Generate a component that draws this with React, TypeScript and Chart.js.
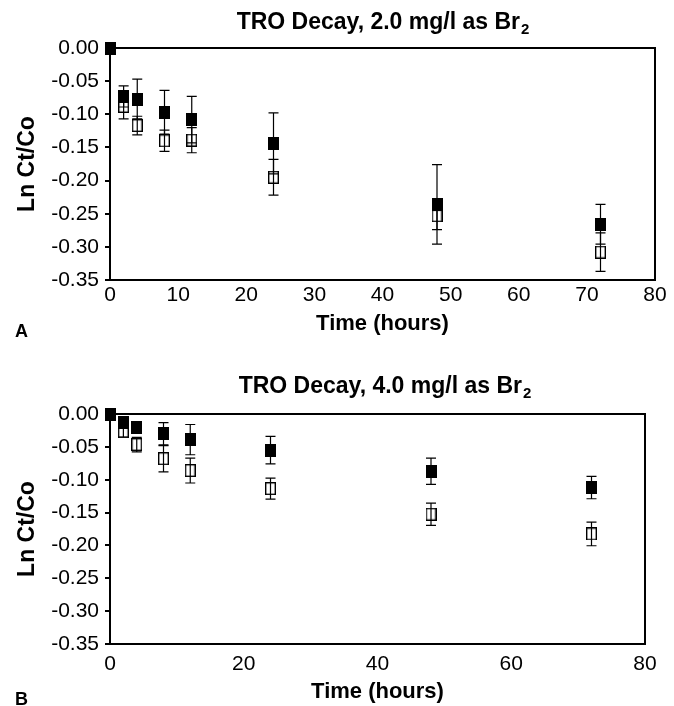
import React, { useEffect, useRef } from 'react';
import { Chart, registerables } from 'chart.js';

Chart.register(...registerables);

// ---------- data ----------
const hours = [0, 2, 4, 8, 12, 24, 48, 72];

const yTicks = [0, -0.05, -0.1, -0.15, -0.2, -0.25, -0.3, -0.35];
const xTicksA = [0, 10, 20, 30, 40, 50, 60, 70, 80];
const xTicksB = [0, 20, 40, 60, 80];

const titleA = 'TRO Decay, 2.0 mg/l as Br';
const titleB = 'TRO Decay, 4.0 mg/l as Br';
const titleSub = '2';
const xTitle = 'Time (hours)';
const yTitle = 'Ln Ct/Co';
const panelA = 'A';
const panelB = 'B';

// Panel A (2.0 mg/l)
const aFilled = [0, -0.073, -0.077, -0.097, -0.108, -0.144, -0.236, -0.266];
const aFilledErr = [0, 0.016, 0.03, 0.033, 0.035, 0.046, 0.06, 0.03];
const aOpen = [0, -0.088, -0.117, -0.14, -0.139, -0.195, -0.253, -0.308];
const aOpenErr = [0, 0.019, 0.014, 0.016, 0.019, 0.027, 0.021, 0.029];

// Panel B (4.0 mg/l)
const bFilled = [0, -0.0125, -0.02, -0.03, -0.039, -0.055, -0.087, -0.112];
const bFilledErr = [0, 0.006, 0.008, 0.017, 0.023, 0.021, 0.02, 0.017];
const bOpen = [0, -0.027, -0.0465, -0.068, -0.086, -0.1135, -0.1525, -0.1825];
const bOpenErr = [0, 0.008, 0.011, 0.02, 0.019, 0.016, 0.017, 0.018];

// ---------- styling ----------
const FONT = '"Liberation Sans", Arial, Helvetica, sans-serif';

function markerCanvas(filled: boolean) {
  const c = document.createElement('canvas');
  c.width = 11;
  c.height = 13;
  const g = c.getContext('2d')!;
  if (filled) {
    g.fillStyle = '#000';
    g.fillRect(0, 0, 11, 13);
  } else {
    g.fillStyle = '#fff';
    g.fillRect(0, 0, 11, 13);
    g.strokeStyle = '#000';
    g.lineWidth = 1.4;
    g.strokeRect(0.7, 0.7, 9.6, 11.6);
  }
  return c;
}

interface Geo {
  top: number;
  right: number;
  xHeight: number;
  xTickPad: number;
  xTitlePad: number;
  titleX: number;
  titleBase: number;
  panelBase: number;
}

interface Spec {
  title: string;
  panel: string;
  filled: number[];
  filledErr: number[];
  open: number[];
  openErr: number[];
  xTicks: number[];
  geo: Geo;
}

const errorBarPlugin = {
  id: 'errorBars',
  afterDatasetsDraw(chart: any) {
    const ctx = chart.ctx;
    const xs = chart.scales.x;
    const ys = chart.scales.y;
    ctx.save();
    ctx.strokeStyle = '#000';
    ctx.lineWidth = 1.2;
    chart.data.datasets.forEach((ds: any) => {
      const errs: number[] = ds.errorBars || [];
      ds.data.forEach((p: any, i: number) => {
        const e = errs[i];
        if (!e) return;
        const x = xs.getPixelForValue(p.x);
        const yU = ys.getPixelForValue(p.y + e);
        const yD = ys.getPixelForValue(p.y - e);
        ctx.beginPath();
        ctx.moveTo(x, yU);
        ctx.lineTo(x, yD);
        ctx.moveTo(x - 5, yU);
        ctx.lineTo(x + 5, yU);
        ctx.moveTo(x - 5, yD);
        ctx.lineTo(x + 5, yD);
        ctx.stroke();
      });
    });
    ctx.restore();
  },
};

function makePlugins(spec: Spec) {
  const g = spec.geo;
  return [
    {
      id: 'frame',
      beforeDatasetsDraw(chart: any) {
        const { ctx, chartArea: a } = chart;
        ctx.save();
        ctx.strokeStyle = '#000';
        ctx.lineWidth = 2;
        ctx.strokeRect(a.left, a.top, a.right - a.left, a.bottom - a.top);
        ctx.restore();
      },
    },
    errorBarPlugin,
    {
      id: 'texts',
      afterDraw(chart: any) {
        const ctx = chart.ctx;
        ctx.save();
        ctx.fillStyle = '#000';
        ctx.textAlign = 'left';
        ctx.textBaseline = 'alphabetic';
        ctx.font = `bold 23px ${FONT}`;
        const w1 = ctx.measureText(spec.title).width;
        ctx.font = `bold 15px ${FONT}`;
        const w2 = ctx.measureText(titleSub).width;
        const x0 = g.titleX - (w1 + w2 + 1) / 2;
        ctx.font = `bold 23px ${FONT}`;
        ctx.fillText(spec.title, x0, g.titleBase);
        ctx.font = `bold 15px ${FONT}`;
        ctx.fillText(titleSub, x0 + w1 + 1, g.titleBase + 5);
        ctx.font = `bold 18px ${FONT}`;
        ctx.fillText(spec.panel, 15, g.panelBase);
        ctx.restore();
      },
    },
  ];
}

function buildConfig(spec: Spec): any {
  const g = spec.geo;
  const filledPt = markerCanvas(true);
  const openPt = markerCanvas(false);
  return {
    type: 'scatter',
    data: {
      datasets: [
        {
          label: 'Filled',
          data: hours.map((h, i) => ({ x: h, y: spec.filled[i] })),
          errorBars: spec.filledErr,
          pointStyle: filledPt,
          pointRadius: 6,
          order: 0,
          clip: false,
          showLine: false,
        },
        {
          label: 'Open',
          data: hours.map((h, i) => ({ x: h, y: spec.open[i] })),
          errorBars: spec.openErr,
          pointStyle: openPt,
          pointRadius: 6,
          order: 1,
          clip: false,
          showLine: false,
        },
      ],
    },
    options: {
      responsive: false,
      animation: false,
      devicePixelRatio: 1,
      layout: { padding: { top: g.top, right: g.right, left: 0, bottom: 0 } },
      plugins: {
        legend: { display: false },
        tooltip: { enabled: false },
        title: { display: false },
      },
      scales: {
        x: {
          type: 'linear',
          min: 0,
          max: 80,
          afterBuildTicks: (s: any) => {
            s.ticks = spec.xTicks.map((v) => ({ value: v }));
          },
          afterFit: (s: any) => {
            s.height = g.xHeight;
          },
          grid: { display: false, drawTicks: false },
          border: { display: false },
          ticks: {
            padding: g.xTickPad,
            autoSkip: false,
            maxRotation: 0,
            color: '#000',
            font: { family: FONT, size: 21 },
          },
          title: {
            display: true,
            text: xTitle,
            color: '#000',
            font: { family: FONT, size: 22, weight: 'bold' },
            padding: { top: 0, bottom: g.xTitlePad },
          },
        },
        y: {
          type: 'linear',
          min: -0.35,
          max: 0,
          afterBuildTicks: (s: any) => {
            s.ticks = yTicks.map((v) => ({ value: v }));
          },
          afterFit: (s: any) => {
            s.width = 110;
          },
          grid: {
            display: true,
            drawOnChartArea: false,
            drawTicks: true,
            tickLength: 5,
            color: '#000',
            lineWidth: 2,
          },
          border: { display: false },
          ticks: {
            padding: 6,
            autoSkip: false,
            color: '#000',
            font: { family: FONT, size: 21 },
            callback: (v: any) => Number(v).toFixed(2),
          },
          title: {
            display: true,
            text: yTitle,
            color: '#000',
            font: { family: FONT, size: 23, weight: 'bold' },
            padding: { top: 14, bottom: 0 },
          },
        },
      },
    },
    plugins: makePlugins(spec),
  };
}

const specA: Spec = {
  title: titleA,
  panel: panelA,
  filled: aFilled,
  filledErr: aFilledErr,
  open: aOpen,
  openErr: aOpenErr,
  xTicks: xTicksA,
  geo: { top: 48, right: 19, xHeight: 65, xTickPad: 3, xTitlePad: 8, titleX: 383, titleBase: 29, panelBase: 337 },
};

const specB: Spec = {
  title: titleB,
  panel: panelB,
  filled: bFilled,
  filledErr: bFilledErr,
  open: bOpen,
  openErr: bOpenErr,
  xTicks: xTicksB,
  geo: { top: 69, right: 29, xHeight: 62, xTickPad: 8, xTitlePad: 1, titleX: 385, titleBase: 48, panelBase: 360 },
};

export default function App() {
  const refA = useRef<HTMLCanvasElement>(null);
  const refB = useRef<HTMLCanvasElement>(null);

  useEffect(() => {
    const ca = new Chart(refA.current!, buildConfig(specA));
    const cb = new Chart(refB.current!, buildConfig(specB));
    return () => {
      ca.destroy();
      cb.destroy();
    };
  }, []);

  return (
    <div style={{ position: 'absolute', left: 0, top: 0, width: 674, height: 706, background: '#fff' }}>
      <canvas ref={refA} width={674} height={345} style={{ position: 'absolute', left: 0, top: 0 }} />
      <canvas ref={refB} width={674} height={361} style={{ position: 'absolute', left: 0, top: 345 }} />
    </div>
  );
}
